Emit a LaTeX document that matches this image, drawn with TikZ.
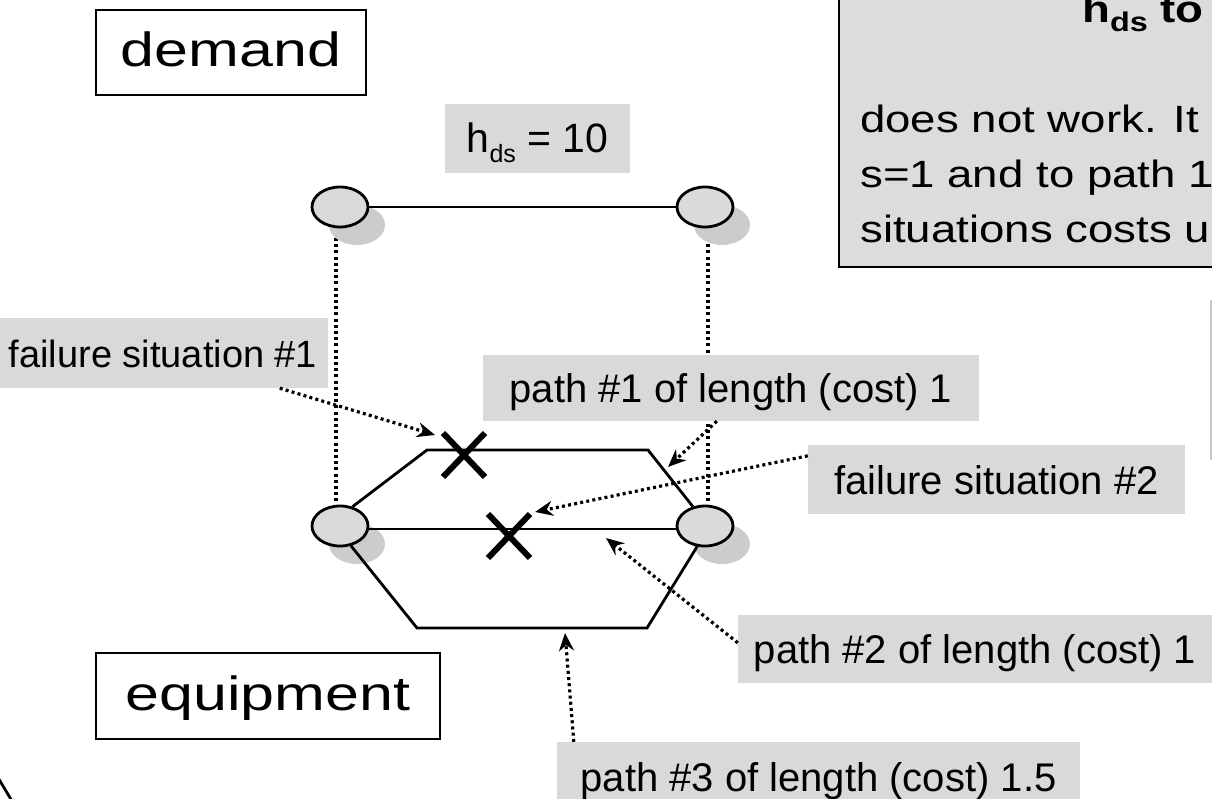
\documentclass[tikz,border=0pt]{standalone}
\usepackage{fontspec}
\setmainfont{Liberation Sans}
\newfontfamily\widesans[FakeStretch=1.27]{Liberation Sans}
\newfontfamily\notesans[FakeStretch=1.2]{Liberation Sans}
\usetikzlibrary{arrows.meta,shapes.geometric,shapes.misc,shadows,backgrounds,calc}

\definecolor{labelgray}{RGB}{217,217,217}
\definecolor{nodegray}{RGB}{218,218,218}
\definecolor{shadegray}{RGB}{204,204,204}
\definecolor{notegray}{RGB}{220,220,220}

\begin{document}
\begin{tikzpicture}[x=1pt,y=-1pt,
  site/.style={ellipse, draw=black, line width=2.8pt, fill=nodegray,
    minimum width=56pt, minimum height=40pt, inner sep=0pt,
    general shadow={fill=shadegray, shadow xshift=17pt, shadow yshift=-18pt}},
  titlebox/.style={draw=black, line width=2.2pt, fill=white, inner sep=0pt,
    text height=34pt, text depth=5pt, font=\widesans\fontsize{48}{58}\selectfont},
  tag/.style={fill=labelgray, inner sep=0pt, text height=29pt, text depth=0pt,
    font=\fontsize{40}{48}\selectfont},
  link/.style={line width=2.8pt},
  guide/.style={line width=3.2pt, dash pattern=on 3pt off 3.2pt},
  pointer/.style={guide, -{Stealth[length=18pt,width=15pt,inset=6pt]}},
  xmark/.style={cross out, draw=black, line width=6pt, inner sep=0pt},
  notetext/.style={anchor=base west, inner sep=0pt,
    font=\notesans\fontsize{38}{46}\selectfont}
]
\useasboundingbox (0,0) rectangle (1212,799);
\clip (0,0) rectangle (1212,799);

% explanation panel (top right)
\node[draw=black, line width=2.2pt, fill=notegray, minimum width=420pt,
  minimum height=300pt, anchor=north west, inner sep=0pt] (note) at (838,-34) {};
\node[notetext, font=\notesans\bfseries\fontsize{38}{46}\selectfont] (head) at (1082,23)
  {h\raisebox{-9pt}{\fontsize{27}{27}\selectfont ds} to};
\node[notetext] (line1) at (860,133) {does not work. It};
\node[notetext] (line2) at (860,188) {s=1 and to path 1};
\node[notetext] (line3) at (860,243) {situations costs u};

% layer titles
\node[titlebox, minimum width=270pt, minimum height=85pt] (demand) at (231,52.5) {demand};
\node[titlebox, minimum width=344pt, minimum height=86pt] (equip) at (268,696) {equipment};

% labels
\node[tag, minimum width=185pt, minimum height=69pt, font=\fontsize{41}{49}\selectfont]
  (hds) at (537.5,138.5) {h\raisebox{-10pt}{\fontsize{25}{25}\selectfont ds} = 10};
\node[tag, minimum width=330pt, minimum height=70pt, font=\fontsize{38}{46}\selectfont]
  (fs1) at (163,353) {failure situation \#1};
\node[tag, minimum width=496pt, minimum height=66pt] (path1) at (731,388) {path \#1 of length (cost) 1};
\node[tag, minimum width=377pt, minimum height=69pt] (fs2) at (996.5,479.5) {failure situation \#2};
\node[tag, minimum width=474pt, minimum height=68pt] (path2) at (975,649) {path \#2 of length (cost) 1};
\node[tag, minimum width=523pt, minimum height=70pt] (path3) at (818.5,777) {path \#3 of length (cost) 1.5};

% network nodes
\node[site] (tl) at (340,207) {};
\node[site] (tr) at (705,207) {};
\node[site] (bl) at (340,526) {};
\node[site] (br) at (705,526) {};

% mapping of demand nodes onto equipment nodes
\begin{pgfonlayer}{background}
  \draw[guide] ([xshift=-4pt]tl.center) -- ([xshift=-4pt]bl.center);
  \draw[guide] ([xshift=3pt]tr.center) -- ([xshift=3pt]br.center);
\end{pgfonlayer}

% demand edge
\draw[link] (tl) -- (tr);

% equipment paths
\coordinate (u1) at (427,450);
\coordinate (u2) at (648,450);
\coordinate (d1) at (417,628);
\coordinate (d2) at (647,628);
\draw[link] (bl.57) -- (u1) -- (u2) -- (br.122);
\draw[link] ([yshift=-3pt]bl.east) -- ([yshift=-3pt]br.west);
\draw[link] (bl.-61) -- (d1) -- (d2) -- (br.-111);

% failed links
\node[xmark, minimum width=36pt, minimum height=38pt] (x1) at (464,455) {};
\node[xmark, minimum width=36pt, minimum height=38pt] (x2) at (509,536) {};

% pointers from labels
\coordinate (t1) at (435,435);
\coordinate (t2) at (668,467);
\coordinate (t3) at (535,512);
\coordinate (t4) at (606,538);
\coordinate (t5) at (565,633);
\draw[pointer] (fs1) -- (t1);
\draw[pointer] ($(path1.south west)+(234,0)$) -- (t2);
\draw[pointer] ($(fs2.north west)+(0,11)$) -- (t3);
\draw[pointer] ($(path2.north west)+(0,28)$) -- (t4);
\draw[pointer] ($(path3.north west)+(17,0)$) -- (t5);

% edge fragments
\draw[link] (-3,776) -- (12,801);
\draw[line width=2pt, draw=black!22] (1211,300) -- (1211,460);
\end{tikzpicture}
\end{document}
